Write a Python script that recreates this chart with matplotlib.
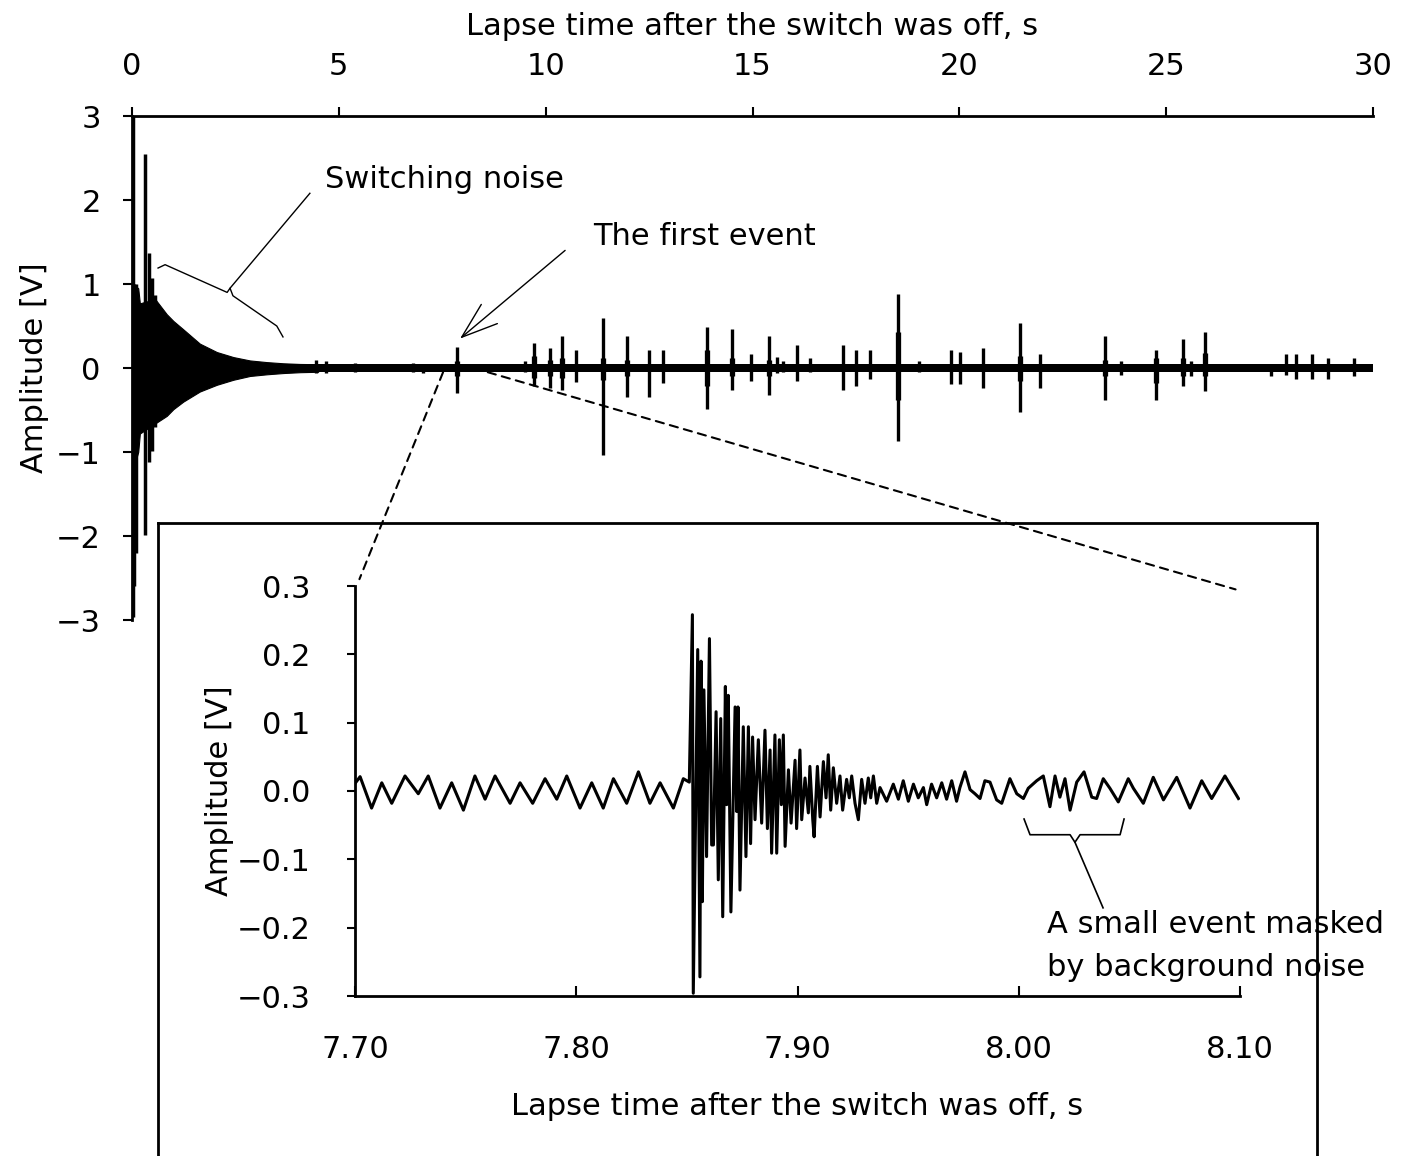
import matplotlib
matplotlib.use('Agg')
import matplotlib.pyplot as plt
from matplotlib.patches import ConnectionPatch
import numpy as np

plt.rcParams['font.family'] = 'DejaVu Sans'
plt.rcParams['font.size'] = 22

# ---- whole record, 0-30 s ----
baseline_t = [0.0, 30.0]
baseline_half = 0.045

# envelope of the switching noise
env_t  = [0.00, 0.15, 0.19, 0.56, 0.84, 1.00, 1.24, 1.64, 2.05, 2.45, 2.85, 3.26, 3.66, 4.06, 4.50]
env_hi = [1.00, 0.95, 0.77, 0.82, 0.64, 0.56, 0.46, 0.29, 0.19, 0.13, 0.09, 0.07, 0.056, 0.048, 0.045]
env_lo = [-1.25, -1.00, -0.78, -0.66, -0.57, -0.49, -0.40, -0.28, -0.20, -0.14, -0.095, -0.075, -0.06, -0.05, -0.045]

# big spikes inside the switching noise
switch_t  = [0.02, 0.06, 0.09, 0.31, 0.40, 0.48, 0.56]
switch_hi = [3.05, 1.00, 1.00, 2.55, 1.37, 1.07, 0.87]
switch_lo = [-2.97, -2.60, -2.20, -1.99, -1.12, -0.99, -0.70]

# events (time, positive peak, negative peak)
event_t = [4.45, 4.70, 5.40, 6.80, 7.03, 7.85, 9.50, 9.72, 10.10, 10.40, 10.73, 11.39,
           11.96, 12.50, 12.84, 13.90, 14.50, 14.96, 15.40, 15.59, 15.73, 16.07, 16.40,
           17.19, 17.51, 17.84, 18.52, 19.02, 19.41, 19.79, 20.01, 20.58, 21.46, 21.79,
           21.96, 22.46, 23.51, 23.90, 24.75, 25.40, 25.59, 25.95, 27.08, 27.53, 27.90,
           28.13, 28.52, 28.92, 29.53]
event_hi = [0.09, 0.08, 0.06, 0.06, 0.05, 0.25, 0.08, 0.30, 0.24, 0.38, 0.21, 0.60,
            0.38, 0.21, 0.21, 0.49, 0.46, 0.17, 0.38, 0.13, 0.08, 0.27, 0.12,
            0.27, 0.21, 0.21, 0.88, 0.08, 0.05, 0.21, 0.19, 0.24, 0.54, 0.05,
            0.17, 0.03, 0.38, 0.08, 0.21, 0.35, 0.08, 0.43, 0.04, 0.05, 0.17,
            0.17, 0.17, 0.12, 0.12]
event_lo = [-0.06, -0.06, -0.05, -0.05, -0.06, -0.30, -0.05, -0.22, -0.24, -0.26, -0.17, -1.04,
            -0.35, -0.35, -0.18, -0.49, -0.26, -0.15, -0.32, -0.06, -0.05, -0.15, -0.05,
            -0.26, -0.21, -0.13, -0.87, -0.05, -0.04, -0.19, -0.19, -0.24, -0.52, -0.04,
            -0.24, -0.03, -0.38, -0.08, -0.38, -0.21, -0.10, -0.27, -0.03, -0.10, -0.08,
            -0.13, -0.13, -0.13, -0.10]

# denser coda just after the larger events
core_t  = [7.85, 9.72, 10.10, 10.40, 11.39, 11.96, 13.90, 14.50, 15.40, 18.52, 21.46, 23.51, 24.75, 25.40, 25.95]
core_hi = [0.08, 0.14, 0.10, 0.12, 0.12, 0.10, 0.22, 0.12, 0.10, 0.43, 0.14, 0.10, 0.12, 0.12, 0.18]
core_lo = [-0.09, -0.12, -0.10, -0.12, -0.14, -0.10, -0.22, -0.10, -0.10, -0.38, -0.16, -0.10, -0.18, -0.10, -0.10]

# ---- zoomed record, 7.70-8.10 s ----
pre_t = [7.7000, 7.7023, 7.7075, 7.7121, 7.7166, 7.7226, 7.7286, 7.7331, 7.7384, 7.7437,
         7.7490, 7.7542, 7.7588, 7.7633, 7.7701, 7.7746, 7.7803, 7.7859, 7.7912, 7.7957,
         7.8017, 7.8070, 7.8122, 7.8168, 7.8228, 7.8281, 7.8333, 7.8379, 7.8439, 7.8484,
         7.8511]
pre_v = [0.011, 0.021, -0.025, 0.012, -0.018, 0.022, -0.004, 0.022, -0.025, 0.012,
         -0.028, 0.022, -0.012, 0.022, -0.018, 0.012, -0.018, 0.018, -0.012, 0.022,
         -0.025, 0.012, -0.025, 0.018, -0.018, 0.028, -0.018, 0.012, -0.025, 0.018,
         0.013]

burst_t = [7.8525, 7.8529, 7.8549, 7.8559, 7.8564, 7.8570, 7.8577, 7.8589, 7.8602, 7.8612,
           7.8620, 7.8632, 7.8642, 7.8653, 7.8662, 7.8674, 7.8680, 7.8687, 7.8699, 7.8718,
           7.8725, 7.8731, 7.8740, 7.8755, 7.8767, 7.8778, 7.8788, 7.8797, 7.8808, 7.8823,
           7.8838, 7.8853, 7.8864, 7.8876, 7.8883, 7.8898, 7.8906, 7.8918, 7.8927, 7.8936,
           7.8944, 7.8959, 7.8971, 7.8989, 7.8996, 7.9011, 7.9019, 7.9034, 7.9049, 7.9056,
           7.9069, 7.9075, 7.9090, 7.9102, 7.9117, 7.9129, 7.9139, 7.9150, 7.9162, 7.9177,
           7.9192, 7.9204, 7.9222, 7.9234, 7.9245, 7.9260, 7.9275, 7.9290, 7.9305, 7.9320,
           7.9331, 7.9343, 7.9358, 7.9373, 7.9403, 7.9433, 7.9456, 7.9478, 7.9501, 7.9524,
           7.9546, 7.9569, 7.9584, 7.9606, 7.9629, 7.9652, 7.9674, 7.9697, 7.9719, 7.9734]
burst_v = [0.258, -0.296, 0.207, -0.272, 0.190, -0.162, 0.148, -0.096, 0.223, -0.079,
           -0.079, 0.116, -0.130, 0.106, -0.184, 0.153, -0.020, 0.140, -0.177, 0.123,
           -0.030, 0.123, -0.145, 0.094, -0.096, 0.094, -0.077, 0.079, -0.042, 0.075,
           -0.047, 0.089, -0.055, 0.060, -0.091, 0.082, -0.091, 0.075, -0.020, 0.082,
           -0.081, 0.031, -0.047, 0.045, -0.055, 0.060, -0.042, 0.019, -0.032, 0.036,
           -0.042, -0.067, 0.036, -0.038, 0.043, -0.010, 0.053, -0.028, 0.034, -0.018,
           0.022, -0.028, 0.017, -0.010, 0.022, -0.018, -0.042, 0.017, -0.018, 0.019,
           -0.010, 0.022, -0.018, 0.005, -0.015, 0.010, -0.012, 0.015, -0.015, 0.010,
           -0.010, 0.005, -0.020, 0.010, -0.010, 0.012, -0.012, 0.015, -0.015, 0.005]

post_t = [7.9757, 7.9780, 7.9802, 7.9825, 7.9847, 7.9870, 7.9900, 7.9923, 7.9960, 7.9991,
          8.0021, 8.0043, 8.0081, 8.0111, 8.0141, 8.0164, 8.0186, 8.0209, 8.0232, 8.0262,
          8.0295, 8.0330, 8.0352, 8.0382, 8.0412, 8.0450, 8.0495, 8.0518, 8.0563, 8.0608,
          8.0654, 8.0714, 8.0774, 8.0827, 8.0872, 8.0932, 8.0993]
post_v = [0.028, 0.002, -0.004, -0.011, 0.015, 0.013, -0.013, -0.018, 0.018, -0.004,
          -0.011, 0.004, 0.015, 0.022, -0.023, 0.022, -0.009, 0.018, -0.028, 0.013,
          0.028, -0.009, -0.011, 0.018, 0.004, -0.016, 0.018, 0.004, -0.018, 0.020,
          -0.013, 0.020, -0.025, 0.015, -0.011, 0.022, -0.011]

W, H = 1405, 1156
fig = plt.figure(figsize=(W / 100, H / 100), dpi=100)

# ---------------- main axes ----------------
ax = fig.add_axes([132 / W, 1 - 620 / H, 1241 / W, 504 / H])
ax.fill_between(baseline_t, -baseline_half, baseline_half, color='k', lw=0)
ax.fill_between(env_t, env_lo, env_hi, color='k', lw=0.8)
ax.vlines(switch_t, switch_lo, switch_hi, color='k', lw=2.5)
ax.vlines(event_t, event_lo, event_hi, color='k', lw=2.4)
ax.vlines(core_t, core_lo, core_hi, color='k', lw=3.8)

ax.set_xlim(0, 30)
ax.set_ylim(-3, 3)
ax.set_xticks(np.arange(0, 31, 5))
ax.set_yticks(np.arange(-3, 4, 1))
ax.spines['bottom'].set_visible(False)
ax.spines['right'].set_visible(False)
ax.spines['top'].set_linewidth(2)
ax.spines['left'].set_linewidth(2)
ax.xaxis.tick_top()
ax.xaxis.set_label_position('top')
ax.tick_params(axis='x', direction='out', length=6.5, width=1.5, pad=19)
ax.tick_params(axis='y', direction='out', length=6.5, width=1.5, pad=16)
ax.set_xlabel('Lapse time after the switch was off, s', labelpad=12)
ax.set_ylabel('Amplitude [V]', labelpad=5)

# switching noise brace + leader
brace_t = [0.63, 0.80, 2.30, 2.37, 2.44, 3.50, 3.65]
brace_v = [1.19, 1.23, 0.90, 0.95, 0.86, 0.50, 0.37]
ax.plot(brace_t, brace_v, color='k', lw=1)
ax.plot([2.37, 4.30], [0.95, 2.08], color='k', lw=1)
ax.text(4.67, 2.24, 'Switching noise', ha='left', va='center')

ax.annotate('', xy=(7.93, 0.35), xytext=(10.47, 1.40),
            arrowprops=dict(arrowstyle='->,head_length=1.3,head_width=0.45', lw=1,
                            color='k', shrinkA=0, shrinkB=0, mutation_scale=20))
ax.text(11.14, 1.56, 'The first event', ha='left', va='center')

# ---------------- inset frame ----------------
box = fig.add_axes([158 / W, -0.02, 1159 / W, (H - 523) / H + 0.02])
box.set_zorder(2)
box.set_xticks([])
box.set_yticks([])
box.spines['bottom'].set_visible(False)
for s in ['top', 'left', 'right']:
    box.spines[s].set_linewidth(2)

# ---------------- inset axes ----------------
ins = fig.add_axes([355 / W, 1 - 996 / H, 885 / W, 410 / H])
ins.set_zorder(3)
ins.patch.set_alpha(0)
ins_t = pre_t + burst_t + post_t
ins_v = pre_v + burst_v + post_v
ins.plot(ins_t, ins_v, color='k', lw=2.2)
ins.set_xlim(7.70, 8.10)
ins.set_ylim(-0.3, 0.3)
xt = [7.70, 7.80, 7.90, 8.00, 8.10]
yt = [-0.3, -0.2, -0.1, 0.0, 0.1, 0.2, 0.3]
ins.set_xticks(xt)
ins.set_xticklabels(['%.2f' % v for v in xt])
ins.set_yticks(yt)
ins.set_yticklabels([('%.1f' % v).replace('-', '\u2212') for v in yt])
ins.spines['top'].set_visible(False)
ins.spines['right'].set_visible(False)
ins.spines['left'].set_linewidth(2)
ins.spines['bottom'].set_linewidth(2)
ins.tick_params(axis='x', direction='in', length=7, width=1.5, pad=28)
ins.tick_params(axis='y', direction='out', length=6, width=1.5, pad=26)
ins.set_xlabel('Lapse time after the switch was off, s', labelpad=20)
ins.set_ylabel('Amplitude [V]', labelpad=2)

mb_t = [8.0024, 8.0051, 8.0232, 8.0254, 8.0277, 8.0458, 8.0476]
mb_v = [-0.041, -0.064, -0.064, -0.075, -0.064, -0.064, -0.041]
ins.plot(mb_t, mb_v, color='k', lw=1.2)
ins.plot([8.0254, 8.0381], [-0.075, -0.171], color='k', lw=1.2)
ins.text(8.0128, -0.196, 'A small event masked', ha='left', va='center', clip_on=False)
ins.text(8.0128, -0.258, 'by background noise', ha='left', va='center', clip_on=False)

# dashed zoom lines
for a, b in [((7.52, -0.05), (7.702, 0.31)), ((8.60, -0.05), (8.098, 0.295))]:
    con = ConnectionPatch(xyA=a, coordsA=ax.transData, xyB=b, coordsB=ins.transData,
                          color='k', lw=1.5, ls=(0, (4, 3)), zorder=10)
    fig.add_artist(con)

fig.savefig('out.png', dpi=100)
